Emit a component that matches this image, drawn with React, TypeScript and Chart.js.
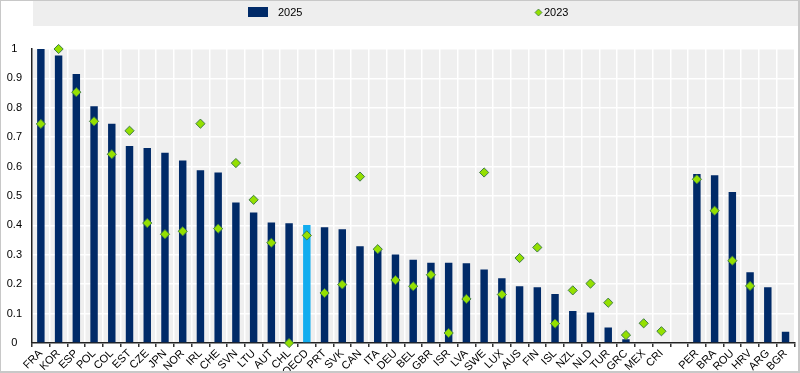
import React, { useEffect, useRef } from "react";
import { Chart, registerables } from "chart.js";

Chart.register(...registerables);

const categories = [
  "FRA", "KOR", "ESP", "POL", "COL", "EST", "CZE", "JPN", "NOR", "IRL", "CHE",
  "SVN", "LTU", "AUT", "CHL", "OECD", "PRT", "SVK", "CAN", "ITA", "DEU", "BEL",
  "GBR", "ISR", "LVA", "SWE", "LUX", "AUS", "FIN", "ISL", "NZL", "NLD", "TUR",
  "GRC", "MEX", "CRI", "", "PER", "BRA", "ROU", "HRV", "ARG", "BGR",
];

const values2025 = [
  1.0, 0.978, 0.915, 0.805, 0.746, 0.67, 0.663, 0.647, 0.621, 0.588, 0.58,
  0.478, 0.444, 0.41, 0.407, 0.401, 0.394, 0.387, 0.329, 0.322, 0.301, 0.283,
  0.273, 0.273, 0.271, 0.25, 0.22, 0.193, 0.19, 0.167, 0.109, 0.104, 0.053,
  0.013, null, null, null, 0.575, 0.571, 0.514, 0.241, 0.19, 0.038,
];

const values2023 = [
  0.745, 1.0, 0.853, 0.754, 0.642, 0.722, 0.408, 0.37, 0.38, 0.746, 0.389,
  0.612, 0.487, 0.341, 0.0, 0.366, 0.17, 0.199, 0.566, 0.319, 0.214, 0.193,
  0.232, 0.034, 0.15, 0.58, 0.165, 0.289, 0.325, 0.066, 0.179, 0.202, 0.137,
  0.027, 0.067, 0.04, null, 0.557, 0.45, 0.28, 0.194, null, null,
];

const seriesLabels = ["2025", "2023"];
const highlight = "OECD";

const NAVY = "#002a68";
const LIGHTBLUE = "#12adef";
const GREEN_FILL = "#94e000";
const GREEN_BORDER = "#3f7d45";
const FONT = "'Liberation Sans', Arial, sans-serif";

const decorPlugin = {
  id: "decor",
  beforeDraw(chart: any) {
    const { ctx, chartArea } = chart;
    ctx.save();
    ctx.fillStyle = "#ffffff";
    ctx.fillRect(0, 0, chart.width, chart.height);
    // plot background
    ctx.fillStyle = "#efefef";
    ctx.fillRect(chartArea.left, chartArea.top, chartArea.right - chartArea.left, chartArea.bottom - chartArea.top);
    // legend box
    ctx.fillStyle = "#eeeeee";
    ctx.fillRect(33, 0, 765, 26);
    ctx.restore();
  },
  afterDraw(chart: any) {
    const { ctx } = chart;
    ctx.save();
    // legend items
    ctx.fillStyle = NAVY;
    ctx.fillRect(248, 7, 20, 10);
    ctx.font = "11px " + FONT;
    ctx.fillStyle = "#000";
    ctx.textBaseline = "middle";
    ctx.textAlign = "left";
    ctx.fillText(seriesLabels[0], 278, 12.5);
    // diamond
    const cx = 538.5, cy = 12.5, r = 3.5;
    ctx.beginPath();
    ctx.moveTo(cx, cy - r);
    ctx.lineTo(cx + r, cy);
    ctx.lineTo(cx, cy + r);
    ctx.lineTo(cx - r, cy);
    ctx.closePath();
    ctx.fillStyle = GREEN_FILL;
    ctx.fill();
    ctx.strokeStyle = GREEN_BORDER;
    ctx.lineWidth = 0.8;
    ctx.stroke();
    ctx.fillStyle = "#000";
    ctx.fillText(seriesLabels[1], 544, 12.5);
    // outer frame
    ctx.strokeStyle = "#c8c8c8";
    ctx.lineWidth = 2;
    ctx.strokeRect(0, 0, 799, 372);
    ctx.restore();
  },
};

export default function App() {
  const ref = useRef<HTMLCanvasElement>(null);

  useEffect(() => {
    document.body.style.margin = "0";
    const canvas = ref.current!;
    const chart = new Chart(canvas, {
      type: "bar",
      data: {
        labels: categories,
        datasets: [
          {
            type: "bar",
            label: seriesLabels[0],
            data: values2025 as any,
            backgroundColor: categories.map((c) => (c === highlight ? LIGHTBLUE : NAVY)),
            barPercentage: 0.42,
            categoryPercentage: 1,
            order: 2,
          },
          {
            type: "line",
            label: seriesLabels[1],
            data: values2023 as any,
            showLine: false,
            pointStyle: "rectRot",
            pointRadius: 4.6,
            pointBackgroundColor: GREEN_FILL,
            pointBorderColor: GREEN_BORDER,
            pointBorderWidth: 1,
            clip: false as any,
            order: 1,
          } as any,
        ],
      },
      options: {
        animation: false,
        responsive: false,
        devicePixelRatio: 1,
        layout: { padding: { top: 49, right: 3, left: 0, bottom: 0 } },
        plugins: {
          legend: { display: false },
          tooltip: { enabled: false },
        },
        scales: {
          x: {
            offset: true,
            grid: {
              color: "#ffffff",
              lineWidth: 1.5,
              tickColor: "#333333",
              tickLength: 4,
              offset: true,
            },
            border: { color: "#222222", width: 1.5 },
            ticks: {
              autoSkip: false,
              maxRotation: 45,
              minRotation: 45,
              padding: 0,
              color: "#000",
              font: { family: FONT, size: 11 },
            },
            afterFit(scale: any) {
              scale.height = 30;
            },
          },
          y: {
            min: 0,
            max: 1,
            grid: { color: "#ffffff", lineWidth: 1.5, drawTicks: false },
            border: { color: "#222222", width: 1.5 },
            ticks: {
              stepSize: 0.1,
              padding: 10,
              crossAlign: "center",
              color: "#000",
              font: { family: FONT, size: 11 },
              callback: (v: any) => String(Math.round(Number(v) * 10) / 10),
            },
            afterFit(scale: any) {
              scale.width = 32;
            },
          },
        },
      },
      plugins: [decorPlugin],
    });
    return () => chart.destroy();
  }, []);

  return (
    <div style={{ width: 800, height: 373 }}>
      <canvas ref={ref} width={800} height={373} style={{ display: "block" }} />
    </div>
  );
}
